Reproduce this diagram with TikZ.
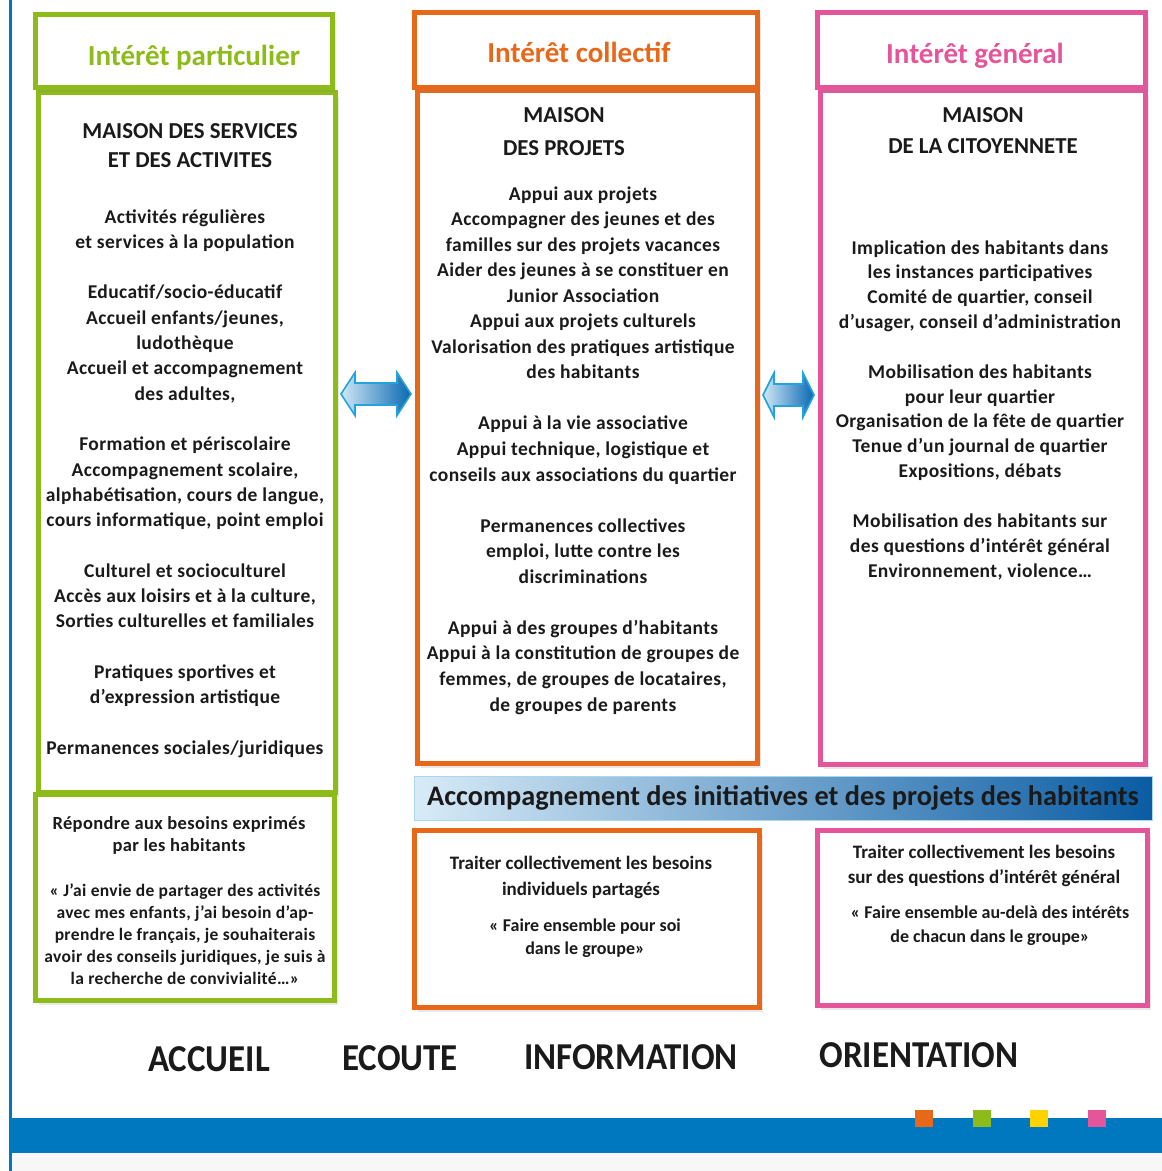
\documentclass[tikz,border=0pt]{standalone}
\usepackage{fontspec}
\setmainfont{Carlito}
\newfontfamily\spacedfont[LetterSpace=2]{Carlito}
\usetikzlibrary{shadows}
\definecolor{cgreen}{HTML}{8DBB1A}
\definecolor{corange}{HTML}{E8681A}
\definecolor{cpink}{HTML}{E5559A}
\definecolor{cblue}{HTML}{0078C0}
\definecolor{cyellow}{HTML}{FFD200}
\definecolor{abluel}{HTML}{D0E7F6}
\definecolor{ablued}{HTML}{0868B2}
\definecolor{aline}{HTML}{22A3DC}
\definecolor{banl}{HTML}{D8EBF7}
\definecolor{banm}{HTML}{40A8DD}
\definecolor{band}{HTML}{0A5CA3}
\definecolor{txt}{HTML}{1A1A1A}
\newcommand\txtlines[6]{\foreach \t [count=\i from 0] in {#6}{\node[#2] (#1-\i) at (#3,{#4+\i*#5}) {\t};}}
\tikzset{
  box/.style={draw=#1, line width=5pt, fill=white, inner sep=0pt,
    drop shadow={opacity=0.18, shadow xshift=3pt, shadow yshift=-4pt}},
  hdr/.style={text=#1, anchor=base, inner sep=0pt, font=\bfseries\fontsize{29}{32}\selectfont},
  txtbase/.style={anchor=base, inner sep=0pt, text=txt},
  captl/.style={txtbase, font=\bfseries\fontsize{22.8}{24}\selectfont},
  body/.style={txtbase, font=\spacedfont\bfseries\fontsize{19.5}{22}\selectfont},
  gsmall/.style={txtbase, font=\spacedfont\bfseries\fontsize{18.5}{21}\selectfont},
  gquote/.style={txtbase, font=\spacedfont\bfseries\fontsize{17.5}{20}\selectfont},
  ctext/.style={txtbase, font=\bfseries\fontsize{19}{21}\selectfont},
  cquote/.style={txtbase, font=\bfseries\fontsize{18}{21}\selectfont},
  big/.style={txtbase, xscale=0.92, font=\bfseries\fontsize{38}{40}\selectfont},
  dblarrow/.style={draw=aline, line width=1.6pt, line join=miter, left color=abluel, right color=ablued},
  sq/.style={fill=#1, draw=none}
}
\begin{document}
\begin{tikzpicture}[x=1pt,y=-1pt]
\useasboundingbox (0,0) rectangle (1162,1171);
\fill[white] (0,0) rectangle (1162,1171);
\fill[black!3] (12,1153) rectangle (1162,1171);
% left rule
\draw[cblue, line width=3pt] (10.5,0) -- (10.5,1171);
% bottom bar
\fill[cblue] (12,1118) rectangle (1162,1153);
\fill[sq=corange] (915,1110) rectangle (933,1127);
\fill[sq=cgreen] (973,1110) rectangle (991,1127);
\fill[sq=cyellow] (1030,1110) rectangle (1048,1127);
\fill[sq=cpink] (1088,1110) rectangle (1106,1127);

% ---------- green column
\node[box=cgreen, minimum width=297pt, minimum height=700pt] (gm) at (187,442.5) {};
\node[box=cgreen, minimum width=297pt, minimum height=73pt] (gh) at (184,51) {};
\node[box=cgreen, minimum width=299pt, minimum height=206pt] (gb) at (185,897.5) {};
\node[hdr=cgreen] (ght) at (194,65) {Intérêt particulier};

% ---------- orange column
\node[box=corange, minimum width=340pt, minimum height=673pt] (om) at (587.5,427) {};
\node[box=corange, minimum width=343pt, minimum height=75pt] (oh) at (586,50) {};
\node[box=corange, minimum width=345pt, minimum height=177pt] (ob) at (587,919) {};
\node[hdr=corange] (oht) at (579,62) {Intérêt collectif};

% ---------- pink column
\node[box=cpink, minimum width=325pt, minimum height=674pt] (pm) at (983,427.5) {};
\node[box=cpink, minimum width=328pt, minimum height=75pt] (ph) at (981.5,50) {};
\node[box=cpink, minimum width=330pt, minimum height=175pt] (pb) at (982.5,918) {};
\node[hdr=cpink] (pht) at (975,63) {Intérêt général};

% ---------- green texts
\txtlines{gcap}{captl}{190}{138}{29}{MAISON DES SERVICES, ET DES ACTIVITES}
\txtlines{gtx}{body}{185}{223}{25.3}{Activités régulières, et services à la population, {}, Educatif/socio-éducatif, {Accueil enfants/jeunes,}, ludothèque, Accueil et accompagnement, {des adultes,}, {}, Formation et périscolaire, {Accompagnement scolaire,}, {alphabétisation, cours de langue,}, {cours informatique, point emploi}, {}, Culturel et socioculturel, {Accès aux loisirs et à la culture,}, Sorties culturelles et familiales, {}, Pratiques sportives et, d’expression artistique, {}, Permanences sociales/juridiques}

% ---------- orange texts
\txtlines{ocap}{captl}{564}{122}{33}{MAISON, DES PROJETS}
\txtlines{otx}{body}{583}{200}{25.55}{Appui aux projets, Accompagner des jeunes et des, familles sur des projets vacances, Aider des jeunes à se constituer en, Junior Association, Appui aux projets culturels, Valorisation des pratiques artistique, des habitants, {}, Appui à la vie associative, {Appui technique, logistique et}, conseils aux associations du quartier, {}, Permanences collectives, {emploi, lutte contre les}, discriminations, {}, Appui à des groupes d’habitants, Appui à la constitution de groupes de, {femmes, de groupes de locataires,}, de groupes de parents}

% ---------- pink texts
\txtlines{pcap}{captl}{983}{122}{31.5}{MAISON, DE LA CITOYENNETE}
\txtlines{ptx}{body}{980}{254}{24.85}{Implication des habitants dans, les instances participatives, {Comité de quartier, conseil}, {d’usager, conseil d’administration}, {}, Mobilisation des habitants, pour leur quartier, Organisation de la fête de quartier, Tenue d’un journal de quartier, {Expositions, débats}, {}, Mobilisation des habitants sur, des questions d’intérêt général, {Environnement, violence\ldots}}

% ---------- arrows
\draw[dblarrow] (341,394) -- (355,372.5) -- (355,383) -- (397,383) -- (397,372.5) -- (411,394)
  -- (397,415.5) -- (397,405) -- (355,405) -- (355,415.5) -- cycle;
\draw[dblarrow] (763,395) -- (774,373) -- (774,384) -- (803,384) -- (803,373) -- (814,395)
  -- (803,417) -- (803,406) -- (774,406) -- (774,417) -- cycle;

% ---------- banner
\node[draw=banl!70!banm, line width=1pt, left color=banl, middle color=banm, right color=band,
  minimum width=738pt, minimum height=44pt, inner sep=0pt, text=txt,
  font=\bfseries\fontsize{28.3}{32}\selectfont] (ban) at (783,798) {Accompagnement des initiatives et des projets des habitants};

% ---------- bottom boxes texts
\txtlines{gbt}{gsmall}{179}{829}{22}{Répondre aux besoins exprimés, par les habitants}
\txtlines{gbq}{gquote}{185}{896}{22}{« J’ai envie de partager des activités, {avec mes enfants, j’ai besoin d’ap-}, {prendre le français, je souhaiterais}, {avoir des conseils juridiques, je suis à}, {la recherche de convivialité\ldots»}}
\txtlines{obt}{ctext}{581}{869}{26}{Traiter collectivement les besoins, individuels partagés}
\txtlines{obq}{cquote}{585}{931}{23}{« Faire ensemble pour soi, dans le groupe»}
\txtlines{pbt}{ctext}{984}{858}{25}{Traiter collectivement les besoins, sur des questions d’intérêt général}
\txtlines{pbq}{cquote}{990}{918}{24}{« Faire ensemble au-delà des intérêts, de chacun dans le groupe»}

% ---------- bottom words
\node[big] (w1) at (209,1071) {ACCUEIL};
\node[big] (w2) at (400,1070) {ECOUTE};
\node[big] (w3) at (631,1069) {INFORMATION};
\node[big] (w4) at (919,1067) {ORIENTATION};
\end{tikzpicture}
\end{document}
